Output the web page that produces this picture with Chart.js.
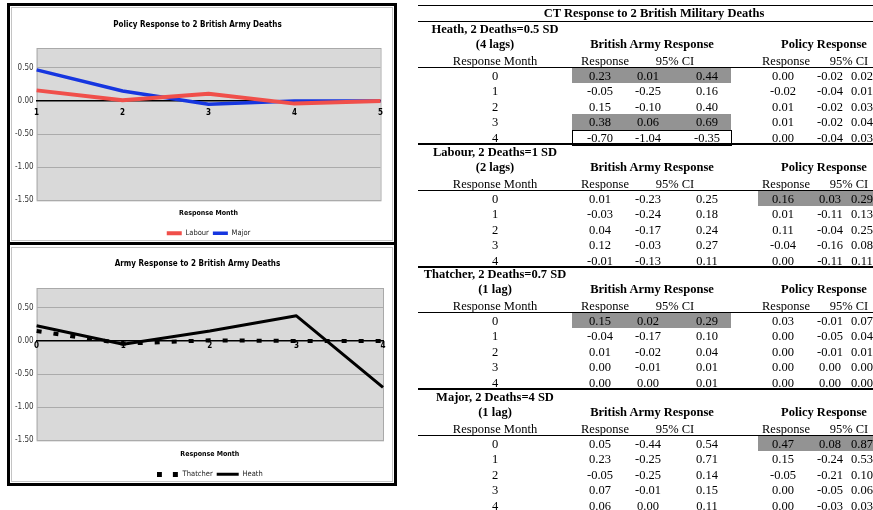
<!DOCTYPE html>
<html>
<head>
<meta charset="utf-8">
<title>CT Response to 2 British Military Deaths</title>
<script src="https://cdn.jsdelivr.net/npm/chart.js@4.4.0/dist/chart.umd.min.js"></script>
<style>
    html, body { margin: 0; padding: 0; background: #fff; }
    body { width: 873px; height: 510px; overflow: hidden; position: relative; }
    .frame { position: absolute; left: 7px; width: 384px; border: 3px solid #000; }
    .inner { position: absolute; left: 1px; right: 1px; border: 1px solid #c4c4c4; }
    canvas { position: absolute; left: 12px; }
    #table { position: absolute; left: 0; top: 0; width: 873px; height: 510px; overflow: hidden;
             font-family: "Liberation Serif", "Times New Roman", serif; font-size: 12.5px; color: #000; }
    .cell { position: absolute; width: 300px; text-align: center; white-space: nowrap; line-height: 16px; }
    .rule { position: absolute; left: 418px; right: 0; background: #000; }
    .shade { position: absolute; background: #939393; }
    .box { position: absolute; border: 1px solid #000; box-sizing: border-box; }
</style>
</head>
<body>
<div class="frame" style="top:3px;height:236px;"><div class="inner" style="top:1px;bottom:1px;"></div></div>
<div class="frame" style="top:242px;height:238px;"><div class="inner" style="top:2px;bottom:1px;"></div></div>
<canvas id="policyChart" width="378" height="238" style="top:9px;"></canvas>
<canvas id="armyChart" width="378" height="240" style="top:248px;"></canvas>
<div id="table"></div>

<script>
// Response months
const months = [0, 1, 2, 3, 4];
const policyMonthLabels = ['1', '2', '3', '4', '5'];
const armyMonthLabels = ['0', '1', '2', '3', '4'];
const yTicks = [-1.5, -1.0, -0.5, 0, 0.5];

// Heath, 2 Deaths=0.5 SD (4 lags)
const heathArmy = [0.23, -0.05, 0.15, 0.38, -0.70];
const heathArmyLo = [0.01, -0.25, -0.10, 0.06, -1.04];
const heathArmyHi = [0.44, 0.16, 0.40, 0.69, -0.35];
const heathPolicy = [0.00, -0.02, 0.01, 0.01, 0.00];
const heathPolicyLo = [-0.02, -0.04, -0.02, -0.02, -0.04];
const heathPolicyHi = [0.02, 0.01, 0.03, 0.04, 0.03];

// Labour, 2 Deaths=1 SD (2 lags)
const labourArmy = [0.01, -0.03, 0.04, 0.12, -0.01];
const labourArmyLo = [-0.23, -0.24, -0.17, -0.03, -0.13];
const labourArmyHi = [0.25, 0.18, 0.24, 0.27, 0.11];
const labourPolicy = [0.16, 0.01, 0.11, -0.04, 0.00];
const labourPolicyLo = [0.03, -0.11, -0.04, -0.16, -0.11];
const labourPolicyHi = [0.29, 0.13, 0.25, 0.08, 0.11];

// Thatcher, 2 Deaths=0.7 SD (1 lag)
const thatcherArmy = [0.15, -0.04, 0.01, 0.00, 0.00];
const thatcherArmyLo = [0.02, -0.17, -0.02, -0.01, 0.00];
const thatcherArmyHi = [0.29, 0.10, 0.04, 0.01, 0.01];
const thatcherPolicy = [0.03, 0.00, 0.00, 0.00, 0.00];
const thatcherPolicyLo = [-0.01, -0.05, -0.01, 0.00, 0.00];
const thatcherPolicyHi = [0.07, 0.04, 0.01, 0.00, 0.00];

// Major, 2 Deaths=4 SD (1 lag)
const majorArmy = [0.05, 0.23, -0.05, 0.07, 0.06];
const majorArmyLo = [-0.44, -0.25, -0.25, -0.01, 0.00];
const majorArmyHi = [0.54, 0.71, 0.14, 0.15, 0.11];
const majorPolicy = [0.47, 0.15, -0.05, 0.00, 0.00];
const majorPolicyLo = [0.08, -0.24, -0.21, -0.05, -0.03];
const majorPolicyHi = [0.87, 0.53, 0.10, 0.06, 0.03];

const chartFont = '"Liberation Sans Narrow", "DejaVu Sans Condensed", "Liberation Sans", sans-serif';

// Grey plot area behind the lines
const plotBackground = {
    id: 'plotBackground',
    beforeDraw(chart) {
        const {ctx, chartArea: a} = chart;
        ctx.save();
        ctx.fillStyle = '#d9d9d9';
        ctx.fillRect(a.left, a.top, a.right - a.left, a.bottom - a.top);
        ctx.strokeStyle = '#a9a9a9';
        ctx.lineWidth = 1;
        ctx.strokeRect(a.left + 0.5, a.top + 0.5, a.right - a.left, a.bottom - a.top);
        ctx.restore();
    }
};

// Legend sample for the dashed series (two square dashes)
function dashedSample() {
    const c = document.createElement('canvas');
    c.width = 22;
    c.height = 5;
    const g = c.getContext('2d');
    g.fillStyle = '#000';
    g.fillRect(0, 0, 5, 5);
    g.fillRect(16, 0, 5, 5);
    return c;
}

function makeChart(id, title, labels, datasets, opts) {
    const ctx = document.getElementById(id).getContext('2d');
    return new Chart(ctx, {
        type: 'line',
        data: { labels: labels, datasets: datasets },
        plugins: [plotBackground],
        options: {
            responsive: false,
            animation: false,
            layout: { autoPadding: false, padding: { left: 0, right: 7, top: 0, bottom: 0 } },
            elements: { point: { radius: 0 }, line: { tension: 0, borderJoinStyle: 'round' } },
            scales: {
                x: {
                    position: { y: 0 },
                    offset: false,
                    grid: { drawOnChartArea: false, drawTicks: false },
                    border: { color: '#000', width: 1.5 },
                    ticks: {
                        color: '#000',
                        padding: opts.xPad,
                        maxRotation: 0,
                        font: { family: chartFont, size: 8, weight: 'bold' }
                    }
                },
                y: {
                    min: -1.5,
                    max: 0.8,
                    afterBuildTicks: axis => { axis.ticks = yTicks.map(v => ({ value: v })); },
                    grid: { color: '#ababab', drawTicks: false },
                    border: { display: false },
                    ticks: {
                        color: '#333',
                        padding: 3,
                        font: { family: chartFont, size: 8 },
                        callback: v => v.toFixed(2)
                    }
                }
            },
            plugins: {
                title: {
                    display: true,
                    text: title,
                    color: '#000',
                    font: { family: chartFont, size: 8, weight: 'bold' },
                    padding: { top: 10.7, bottom: opts.titleBottom }
                },
                subtitle: {
                    display: true,
                    position: 'bottom',
                    fullSize: false,
                    weight: 1500,
                    text: 'Response Month',
                    color: '#000',
                    font: { family: chartFont, size: 7, weight: 'bold' },
                    padding: { top: opts.subTop, bottom: 8 }
                },
                legend: {
                    position: 'bottom',
                    fullSize: false,
                    weight: 2500,
                    labels: {
                        usePointStyle: true,
                        pointStyleWidth: opts.sampleWidth,
                        padding: 4,
                        color: '#222',
                        font: { family: chartFont, size: 7.5 }
                    }
                },
                tooltip: { enabled: false }
            }
        }
    });
}

makeChart('policyChart', 'Policy Response to 2 British Army Deaths', policyMonthLabels, [
    { label: 'Labour', data: labourPolicy, borderColor: '#f04f4a', borderWidth: 4, pointStyle: 'line' },
    { label: 'Major', data: majorPolicy, borderColor: '#1636e0', borderWidth: 3.5, pointStyle: 'line' }
], { xPad: 7, titleBottom: 18.7, subTop: 8.8, sampleWidth: 15 });

makeChart('armyChart', 'Army Response to 2 British Army Deaths', armyMonthLabels, [
    { label: 'Thatcher', data: thatcherArmy, borderColor: '#000', borderWidth: 4, borderDash: [5, 12], pointStyle: dashedSample() },
    { label: 'Heath', data: heathArmy, borderColor: '#000', borderWidth: 3, pointStyle: 'line' }
], { xPad: 0, titleBottom: 19.7, subTop: 9.8, sampleWidth: 22 });

// ---- Table on the right ----
const tableEl = document.getElementById('table');
const colRM = 495, colArmy = [600, 648, 707], colPolicy = [783, 830, 862];

function addText(text, cx, cy, bold) {
    const d = document.createElement('div');
    d.className = 'cell';
    d.textContent = text;
    d.style.left = (cx - 150) + 'px';
    d.style.top = (cy - 8) + 'px';
    if (bold) d.style.fontWeight = 'bold';
    tableEl.appendChild(d);
}
function addRule(y, h) {
    const d = document.createElement('div');
    d.className = 'rule';
    d.style.top = y + 'px';
    d.style.height = h + 'px';
    tableEl.appendChild(d);
}
function addRect(cls, x0, x1, y0, y1) {
    const d = document.createElement('div');
    d.className = cls;
    d.style.left = x0 + 'px';
    d.style.width = (x1 - x0) + 'px';
    d.style.top = y0 + 'px';
    d.style.height = (y1 - y0) + 'px';
    tableEl.appendChild(d);
}

const sections = [
    { top: 21, name: 'Heath, 2 Deaths=0.5 SD', lags: '(4 lags)',
      army: [heathArmy, heathArmyLo, heathArmyHi], policy: [heathPolicy, heathPolicyLo, heathPolicyHi] },
    { top: 144, name: 'Labour, 2 Deaths=1 SD', lags: '(2 lags)',
      army: [labourArmy, labourArmyLo, labourArmyHi], policy: [labourPolicy, labourPolicyLo, labourPolicyHi] },
    { top: 266, name: 'Thatcher, 2 Deaths=0.7 SD', lags: '(1 lag)',
      army: [thatcherArmy, thatcherArmyLo, thatcherArmyHi], policy: [thatcherPolicy, thatcherPolicyLo, thatcherPolicyHi] },
    { top: 389, name: 'Major, 2 Deaths=4 SD', lags: '(1 lag)',
      army: [majorArmy, majorArmyLo, majorArmyHi], policy: [majorPolicy, majorPolicyLo, majorPolicyHi] }
];

addRule(4.5, 1.5);
addText('CT Response to 2 British Military Deaths', 654, 13, true);
addRule(21, 1);

sections.forEach(sec => {
    const t = sec.top;
    addText(sec.name, colRM, t + 7.5, true);
    addText(sec.lags, colRM, t + 23, true);
    addText('British Army Response', 652, t + 23, true);
    addText('Policy Response', 824, t + 23, true);
    addText('Response Month', colRM, t + 39.5, false);
    addText('Response', 605, t + 40, false);
    addText('95% CI', 675, t + 39.5, false);
    addText('Response', 786, t + 40, false);
    addText('95% CI', 849, t + 39.5, false);
    addRule(t + 46, 1);

    months.forEach((m, i) => {
        const cy = t + 54.5 + i * 15.5;
        // shade significant positive responses, box significant negative ones
        if (sec.army[1][i] > 0) addRect('shade', 572, 731, cy - 8, cy + 7.5);
        if (sec.army[2][i] < 0) addRect('box', 572, 732, cy - 8, cy + 8);
        if (sec.policy[1][i] > 0) addRect('shade', 758, 880, cy - 8, cy + 7.5);
        addText(String(m), colRM, cy, false);
        sec.army.forEach((arr, k) => addText(arr[i].toFixed(2), colArmy[k], cy, false));
        sec.policy.forEach((arr, k) => addText(arr[i].toFixed(2), colPolicy[k], cy, false));
    });
    if (t < 389) addRule(t + 122, 2);
});
</script>
</body>
</html>
